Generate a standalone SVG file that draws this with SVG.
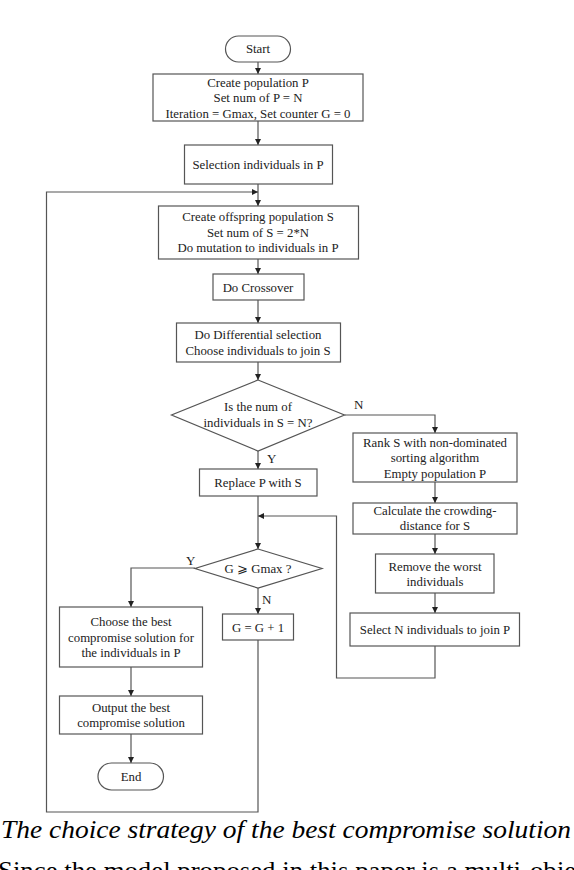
<svg xmlns="http://www.w3.org/2000/svg" width="574" height="870" viewBox="0 0 574 870">
<style>
.n{fill:#fff;stroke:#555;stroke-width:1.2}
.t{font-family:"Liberation Serif","Times New Roman",serif;font-size:12.8px;fill:#222;text-anchor:middle;dominant-baseline:central}
.c{fill:none;stroke:#555;stroke-width:1.2}
.l{font-family:"Liberation Serif","Times New Roman",serif;font-size:13px;fill:#222}
.cap{font-family:"Liberation Serif","Times New Roman",serif;font-size:26px;fill:#000}
</style>
<defs>
<marker id="a" viewBox="0 0 10 10" refX="10" refY="5" markerWidth="6" markerHeight="6" markerUnits="userSpaceOnUse" orient="auto">
<path d="M0,0 L10,5 L0,10 z" fill="#222"/>
</marker>
</defs>
<rect width="574" height="870" fill="#fff"/>
<g id="connectors" class="c" marker-end="url(#a)">
<path d="M258,62 V74"/>
<path d="M258,121 V145"/>
<path d="M258,184 V206"/>
<path d="M258,259 V274"/>
<path d="M258,300 V323"/>
<path d="M258,362 V380"/>
<path d="M344.5,415 H435 V433"/>
<path d="M258,451 V469"/>
<path d="M435,482 V503"/>
<path d="M435,534 V554"/>
<path d="M435,593 V613"/>
<path d="M258,496 V549"/>
<path d="M435,646 V678 H336.5 V516 H258"/>
<path d="M195,568 H131 V607"/>
<path d="M258,588 V614"/>
<path d="M131,667 V696"/>
<path d="M131,734 V763"/>
<path d="M258,640 V812 H46.5 V192 H258"/>
</g>
<g id="start"><rect class="n" x="225.5" y="36" width="65" height="26" rx="13"/><text class="t" x="258" y="49">Start</text></g>
<g id="create"><rect class="n" x="153" y="74" width="210" height="47"/>
<text class="t" x="258" y="82.5">Create population P</text>
<text class="t" x="258" y="98">Set num of P = N</text>
<text class="t" x="258" y="113.5">Iteration = Gmax, Set counter G = 0</text></g>
<g id="selection"><rect class="n" x="184.5" y="145" width="148" height="39"/><text class="t" x="258" y="165">Selection individuals in P</text></g>
<g id="offspring"><rect class="n" x="158.5" y="206" width="200" height="53"/>
<text class="t" x="258" y="217">Create offspring population S</text>
<text class="t" x="258" y="233">Set num of S = 2*N</text>
<text class="t" x="258" y="248">Do mutation to individuals in P</text></g>
<g id="crossover"><rect class="n" x="213" y="274" width="91" height="26"/><text class="t" x="258" y="288">Do Crossover</text></g>
<g id="differential"><rect class="n" x="176.5" y="323" width="164" height="39"/>
<text class="t" x="258" y="334.5">Do Differential selection</text>
<text class="t" x="258" y="350.5">Choose individuals to join S</text></g>
<g id="decision1"><path class="n" d="M258,380 L344.5,415 L258,451 L171.5,415 Z"/>
<text class="t" x="258" y="407">Is the num of</text>
<text class="t" x="258" y="423">individuals in S = N?</text></g>
<text class="l" x="354" y="409">N</text>
<text class="l" x="267" y="463">Y</text>
<g id="rank"><rect class="n" x="353" y="433" width="164" height="49"/>
<text class="t" x="435" y="442.5">Rank S with non-dominated</text>
<text class="t" x="435" y="458">sorting algorithm</text>
<text class="t" x="435" y="473.5">Empty population P</text></g>
<g id="replace"><rect class="n" x="199.5" y="469" width="117.5" height="27"/><text class="t" x="258" y="482.5">Replace P with S</text></g>
<g id="crowding"><rect class="n" x="353" y="503" width="164" height="31"/>
<text class="t" x="435" y="511">Calculate the crowding-</text>
<text class="t" x="435" y="526">distance for S</text></g>
<g id="remove"><rect class="n" x="375.5" y="554" width="118.5" height="39"/>
<text class="t" x="435" y="566.5">Remove the worst</text>
<text class="t" x="435" y="582">individuals</text></g>
<g id="decision2"><path class="n" d="M258,549 L322,568.5 L258,588 L195,568.5 Z"/>
<text class="t" x="258" y="568.5">G ⩾ Gmax ?</text></g>
<text class="l" x="186" y="565">Y</text>
<text class="l" x="262" y="604">N</text>
<g id="choose"><rect class="n" x="59.5" y="607" width="143" height="60"/>
<text class="t" x="131" y="622">Choose the best</text>
<text class="t" x="131" y="637.5">compromise solution for</text>
<text class="t" x="131" y="652.5">the individuals in P</text></g>
<g id="increment"><rect class="n" x="222.5" y="614" width="71" height="26"/><text class="t" x="258" y="628">G = G + 1</text></g>
<g id="selectN"><rect class="n" x="350" y="613" width="169.5" height="33"/><text class="t" x="435" y="630">Select N individuals to join P</text></g>
<g id="output"><rect class="n" x="59.5" y="696" width="143" height="38"/>
<text class="t" x="131" y="707.5">Output the best</text>
<text class="t" x="131" y="723">compromise solution</text></g>
<g id="end"><rect class="n" x="98" y="763" width="65.5" height="27" rx="13.5"/><text class="t" x="131" y="777">End</text></g>
<text class="cap" x="1" y="838" font-style="italic" textLength="570" lengthAdjust="spacingAndGlyphs">The choice strategy of the best compromise solution</text>
<text class="cap" x="-2" y="879" textLength="590" lengthAdjust="spacingAndGlyphs">Since the model proposed in this paper is a multi-objec</text>
</svg>
